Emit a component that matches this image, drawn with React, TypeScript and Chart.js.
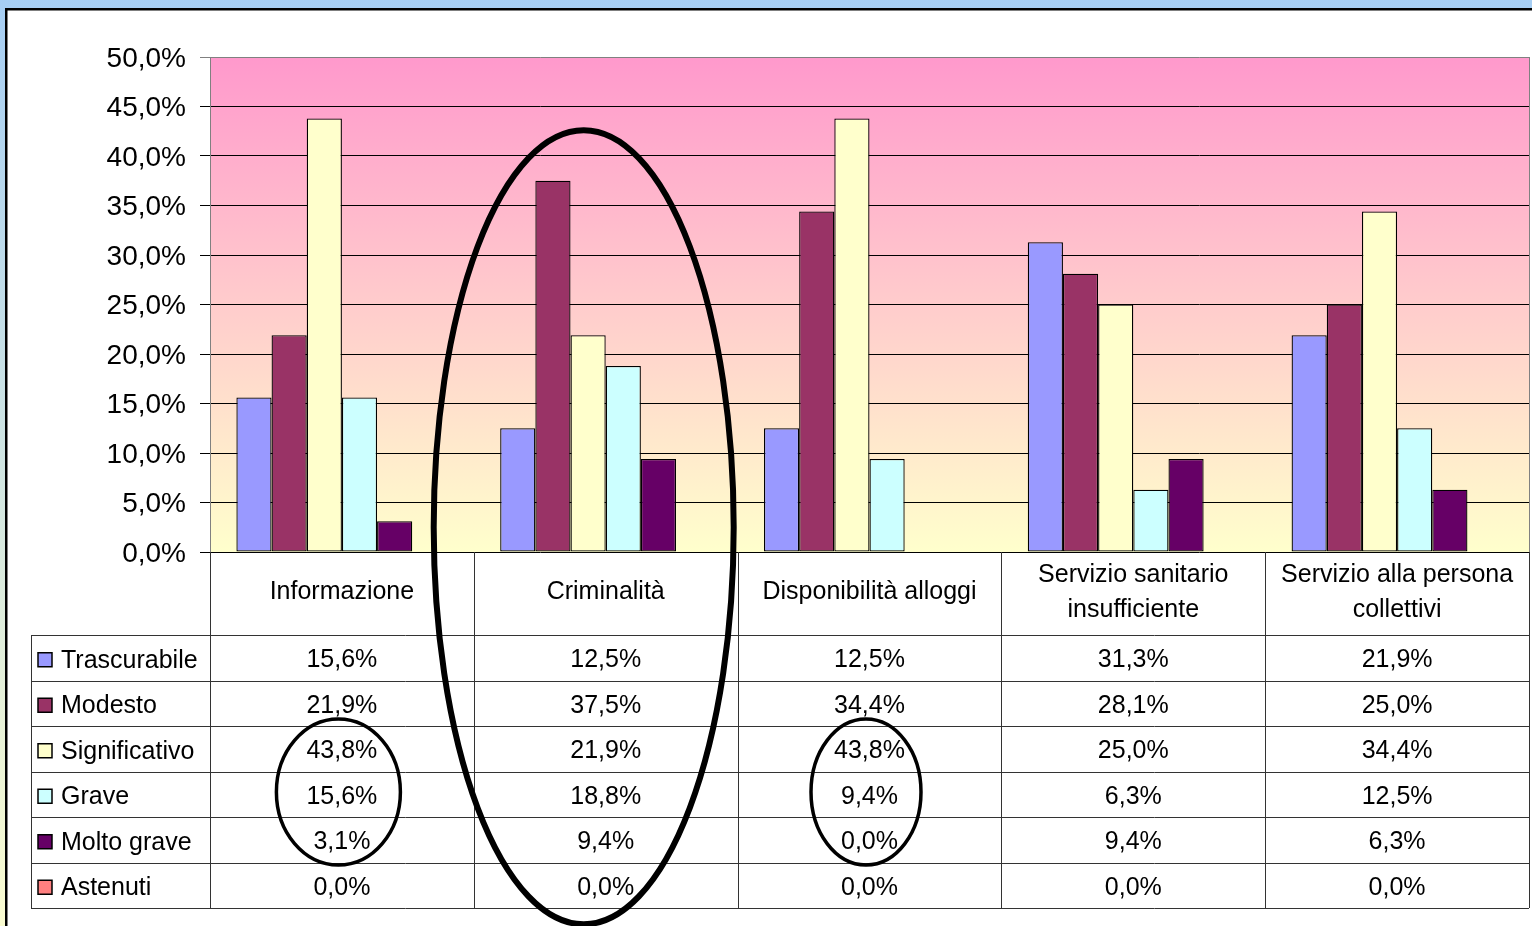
import React, { useEffect, useRef } from "react";
import { Chart, registerables } from "chart.js";

Chart.register(...registerables);

// ---------- data ----------
const categories = [
  "Informazione",
  "Criminalità",
  "Disponibilità alloggi",
  "Servizio sanitario insufficiente",
  "Servizio alla persona collettivi",
];
const categoryLines = [
  ["Informazione"],
  ["Criminalità"],
  ["Disponibilità alloggi"],
  ["Servizio sanitario", "insufficiente"],
  ["Servizio alla persona", "collettivi"],
];
const seriesNames = ["Trascurabile", "Modesto", "Significativo", "Grave", "Molto grave", "Astenuti"];
const trascurabile = [15.6, 12.5, 12.5, 31.3, 21.9];
const modesto = [21.9, 37.5, 34.4, 28.1, 25.0];
const significativo = [43.8, 21.9, 43.8, 25.0, 34.4];
const grave = [15.6, 18.8, 9.4, 6.3, 12.5];
const moltoGrave = [3.1, 9.4, 0.0, 9.4, 6.3];
const astenuti = [0.0, 0.0, 0.0, 0.0, 0.0];
const seriesValues = [trascurabile, modesto, significativo, grave, moltoGrave, astenuti];
const seriesColors = ["#9999FF", "#993366", "#FFFFCC", "#CCFFFF", "#660066", "#FF8080"];
const yMin = 0;
const yMax = 50;
const yStep = 5;

const FONT = "'Liberation Sans', Arial, Helvetica, sans-serif";
const fmt = (v: number) => v.toFixed(1).replace(".", ",") + "%";

// ---------- layout constants ----------
const W = 1532;
const H = 926;
const HEADER_H = 83;
const ROW_H = 45.5;
const LEGEND_LEFT = 31;

const decorPlugin = {
  id: "decor",
  beforeDraw(chart: any) {
    const { ctx, chartArea } = chart;
    ctx.save();
    // page background
    const pg = ctx.createLinearGradient(0, 0, 0, H);
    pg.addColorStop(0, "#A6CEF4");
    pg.addColorStop(1, "#FAFCD0");
    ctx.fillStyle = pg;
    ctx.fillRect(0, 0, W, H);
    // white panel
    ctx.fillStyle = "#FFFFFF";
    ctx.fillRect(7, 10, W, H);
    ctx.strokeStyle = "#000";
    ctx.lineWidth = 2.5;
    ctx.beginPath();
    ctx.moveTo(6.25, H + 5);
    ctx.lineTo(6.25, 9.25);
    ctx.lineTo(W + 5, 9.25);
    ctx.stroke();
    // plot area gradient
    const g = ctx.createLinearGradient(0, chartArea.top, 0, chartArea.bottom);
    g.addColorStop(0, "#FF99CC");
    g.addColorStop(1, "#FFFFCC");
    ctx.fillStyle = g;
    ctx.fillRect(chartArea.left, chartArea.top, chartArea.right - chartArea.left, chartArea.bottom - chartArea.top);
    ctx.restore();
  },
  afterDraw(chart: any) {
    const { ctx, chartArea } = chart;
    const xs = chart.scales.x;
    const ys = chart.scales.y;
    const n = categories.length;
    const colW = (chartArea.right - chartArea.left) / n;
    const bounds: number[] = [];
    for (let i = 0; i < n; i++) bounds.push(xs.getPixelForValue(i) - colW / 2);
    bounds.push(chartArea.right);
    const headTop = chartArea.bottom;
    const rowsTop = headTop + HEADER_H;
    const tableBottom = rowsTop + seriesNames.length * ROW_H;
    const al = (v: number) => Math.round(v) + 0.5;

    ctx.save();
    // right border of plot
    ctx.strokeStyle = "#808080";
    ctx.lineWidth = 1;
    ctx.beginPath();
    ctx.moveTo(al(chartArea.right), chartArea.top);
    ctx.lineTo(al(chartArea.right), headTop);
    ctx.stroke();

    // table lines
    ctx.strokeStyle = "#333333";
    ctx.beginPath();
    for (let r = 0; r <= seriesNames.length; r++) {
      const y = al(rowsTop + r * ROW_H);
      ctx.moveTo(LEGEND_LEFT, y);
      ctx.lineTo(chartArea.right, y);
    }
    bounds.forEach((bx) => {
      ctx.moveTo(al(bx), headTop);
      ctx.lineTo(al(bx), tableBottom);
    });
    ctx.moveTo(al(LEGEND_LEFT), rowsTop);
    ctx.lineTo(al(LEGEND_LEFT), tableBottom);
    ctx.stroke();

    // header labels
    ctx.fillStyle = "#000";
    ctx.font = `25px ${FONT}`;
    ctx.textAlign = "center";
    ctx.textBaseline = "middle";
    const headMid = headTop + HEADER_H / 2 - 1;
    categoryLines.forEach((lines, i) => {
      const cx = xs.getPixelForValue(i);
      if (lines.length === 1) {
        ctx.fillText(lines[0], cx, headMid);
      } else {
        ctx.fillText(lines[0], cx, headMid - 17.5);
        ctx.fillText(lines[1], cx, headMid + 17.5);
      }
    });

    // rows
    seriesNames.forEach((name, r) => {
      const cy = rowsTop + r * ROW_H + ROW_H / 2;
      // legend key
      ctx.fillStyle = seriesColors[r];
      ctx.fillRect(38, cy - 5, 14, 14);
      ctx.strokeStyle = "#000";
      ctx.lineWidth = 1.5;
      ctx.strokeRect(38, cy - 5, 14, 14);
      ctx.fillStyle = "#000";
      ctx.textAlign = "left";
      ctx.fillText(name, 61, cy + 3);
      ctx.textAlign = "center";
      seriesValues[r].forEach((v, i) => {
        ctx.fillText(fmt(v), xs.getPixelForValue(i), cy + 2.5);
      });
    });

    // highlight ellipses
    ctx.strokeStyle = "#000";
    ctx.lineWidth = 6;
    ctx.beginPath();
    ctx.ellipse(xs.getPixelForValue(1) - 22, ys.getPixelForValue(2.5), 150, 397, 0, 0, Math.PI * 2);
    ctx.stroke();
    ctx.lineWidth = 3.5;
    const ecy = rowsTop + 3.45 * ROW_H;
    ctx.beginPath();
    ctx.ellipse(xs.getPixelForValue(0) - 3.5, ecy, 62, 73, 0, 0, Math.PI * 2);
    ctx.stroke();
    ctx.beginPath();
    ctx.ellipse(xs.getPixelForValue(2) - 3.5, ecy, 55, 73, 0, 0, Math.PI * 2);
    ctx.stroke();
    ctx.restore();
  },
};

export default function App() {
  const ref = useRef<HTMLCanvasElement | null>(null);
  useEffect(() => {
    if (!ref.current) return;
    const chart = new Chart(ref.current, {
      type: "bar",
      data: {
        labels: categories,
        datasets: seriesNames.map((name, i) => ({
          label: name,
          data: seriesValues[i],
          backgroundColor: seriesColors[i],
          borderColor: "#000",
          borderWidth: 1.3,
          borderSkipped: false,
          categoryPercentage: 0.8,
          barPercentage: 1,
        })),
      },
      options: {
        responsive: false,
        animation: false,
        devicePixelRatio: 1,
        layout: { padding: { left: 0, right: 3, top: 57, bottom: 0 } },
        plugins: { legend: { display: false }, tooltip: { enabled: false } },
        scales: {
          x: {
            grid: { display: false, drawTicks: false },
            border: { display: false },
            ticks: { display: false },
            afterFit: (s: any) => {
              s.height = 374;
            },
          },
          y: {
            min: yMin,
            max: yMax,
            ticks: {
              stepSize: yStep,
              callback: (v: any) => fmt(Number(v)),
              color: "#000",
              font: { family: FONT, size: 28 },
              padding: 14,
              labelOffset: 2,
            },
            grid: {
              color: (c: any) => (c.tick && c.tick.value === yMax ? "#808080" : "#000"),
              lineWidth: 1,
              tickLength: 10,
            },
            border: { color: "#808080", width: 1 },
            afterFit: (s: any) => {
              s.width = 210;
            },
          },
        },
      },
      plugins: [decorPlugin],
    });
    return () => chart.destroy();
  }, []);
  return (
    <canvas
      ref={ref}
      width={W}
      height={H}
      style={{ position: "fixed", left: 0, top: 0, display: "block", width: W, height: H }}
    />
  );
}
